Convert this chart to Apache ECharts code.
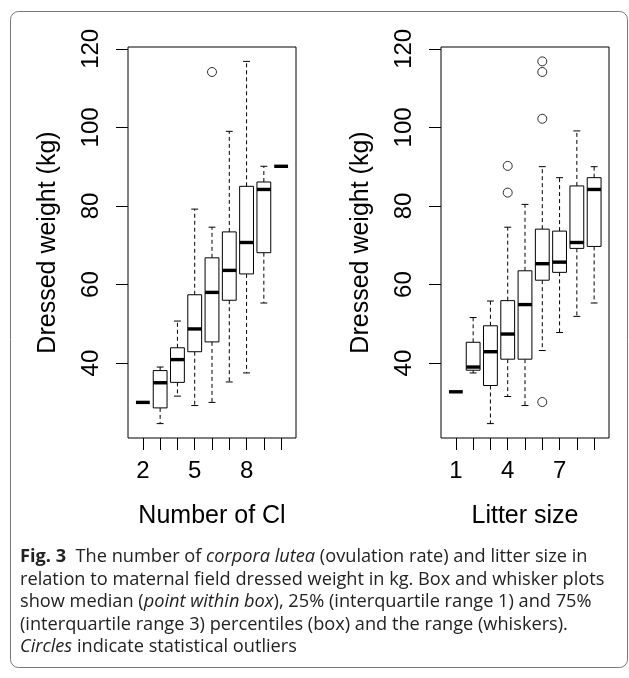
<!DOCTYPE html>
<html>
<head>
<meta charset="utf-8">
<script src="https://cdn.jsdelivr.net/npm/echarts@6/dist/echarts.min.js"></script>
<style>
html,body{margin:0;padding:0;background:#fff;}
#chart{width:629px;height:678px;}
</style>
</head>
<body>
<div id="chart"></div>
<script>
// ---- data ----
const clCategories = ['2','3','4','5','6','7','8','9','10'];
const clLow    = [30.0, 24.6, 31.6, 29.2, 30.0, 35.2, 37.5, 55.3, 90.1];
const clQ1     = [30.0, 28.6, 35.1, 42.9, 45.4, 56.0, 62.7, 68.1, 90.1];
const clMedian = [30.0, 35.0, 40.9, 48.7, 58.0, 63.6, 70.7, 84.2, 90.1];
const clQ3     = [30.0, 38.1, 43.9, 57.4, 66.8, 73.4, 85.0, 86.1, 90.1];
const clHigh   = [30.0, 39.0, 50.7, 79.2, 74.6, 99.0, 116.8, 90.1, 90.1];
const clOutlierCats   = ['6'];
const clOutlierValues = [114.1];

const lsCategories = ['1','2','3','4','5','6','7','8','9'];
const lsLow    = [32.7, 37.5, 24.6, 31.5, 29.2, 43.2, 47.8, 51.9, 55.3];
const lsQ1     = [32.7, 38.2, 34.3, 41.0, 41.0, 61.1, 63.1, 69.2, 69.7];
const lsMedian = [32.7, 39.0, 42.9, 47.4, 54.9, 65.3, 65.7, 70.7, 84.2];
const lsQ3     = [32.7, 45.3, 49.5, 55.9, 63.5, 74.1, 73.6, 85.1, 87.2];
const lsHigh   = [32.7, 51.6, 55.8, 74.6, 80.4, 90.0, 87.2, 99.1, 90.0];
const lsOutlierCats   = ['4','4','6','6','6','6'];
const lsOutlierValues = [90.2, 83.4, 116.8, 114.1, 102.2, 30.1];

const yTicks = [40, 60, 80, 100, 120];
const clLabelTicks = ['2','5','8'];
const lsLabelTicks = ['1','4','7'];
const yTitle = 'Dressed weight (kg)';
const clTitle = 'Number of Cl';
const lsTitle = 'Litter size';

// ---- helpers ----
const FONT = 'Liberation Sans, Arial, Helvetica, sans-serif';
function boxRows(cats, lo, q1, med, q3, hi) {
  return cats.map((c, i) => [i + 1, lo[i], q1[i], med[i], q3[i], hi[i]]);
}
function outlierRows(cats, oc, ov) {
  return oc.map((c, i) => [cats.indexOf(c) + 1, ov[i]]);
}
function renderBox(params, api) {
  const x = api.value(0);
  const lo = api.value(1), q1 = api.value(2), med = api.value(3), q3 = api.value(4), hi = api.value(5);
  const bw = api.size([0.8, 0])[0];
  const cw = bw * 0.5;
  const pLo = api.coord([x, lo]), pQ1 = api.coord([x, q1]), pMed = api.coord([x, med]),
        pQ3 = api.coord([x, q3]), pHi = api.coord([x, hi]);
  const cx = pMed[0];
  const line = (x1, y1, x2, y2, extra) => Object.assign({
    type: 'line', shape: {x1, y1, x2, y2},
    style: {stroke: '#000', lineWidth: 1}
  }, extra || {});
  const children = [];
  if (hi > q3) {
    children.push(line(cx, pQ3[1], cx, pHi[1], {style: {stroke: '#000', lineWidth: 1, lineDash: [4, 3]}}));
    children.push(line(cx - cw / 2, pHi[1], cx + cw / 2, pHi[1]));
  }
  if (lo < q1) {
    children.push(line(cx, pQ1[1], cx, pLo[1], {style: {stroke: '#000', lineWidth: 1, lineDash: [4, 3]}}));
    children.push(line(cx - cw / 2, pLo[1], cx + cw / 2, pLo[1]));
  }
  if (q3 > q1) {
    children.push({type: 'rect', shape: {x: cx - bw / 2, y: pQ3[1], width: bw, height: pQ1[1] - pQ3[1]},
      style: {fill: '#fff', stroke: '#000', lineWidth: 1}});
  }
  children.push(line(cx - bw / 2, pMed[1], cx + bw / 2, pMed[1], {style: {stroke: '#000', lineWidth: 3.4}}));
  return {type: 'group', children};
}
function xAxisFor(gridIndex, cats, labelTicks, title) {
  return {
    type: 'value', gridIndex, min: 0.14, max: 9.86,
    axisLine: {show: false},
    splitLine: {show: false},
    axisTick: {show: true, length: 12, lineStyle: {color: '#000', width: 1},
      customValues: cats.map((c, i) => i + 1)},
    axisLabel: {show: true, margin: 21, fontSize: 24, color: '#000', fontFamily: FONT,
      customValues: labelTicks.map(t => cats.indexOf(t) + 1),
      formatter: v => cats[Math.round(v) - 1]},
    name: title, nameLocation: 'middle', nameGap: 66,
    nameTextStyle: {fontSize: 25, color: '#000', fontFamily: FONT}
  };
}
function yAxisFor(gridIndex) {
  return {
    type: 'value', gridIndex, min: 20.94, max: 120.46,
    axisLine: {show: false},
    splitLine: {show: false},
    axisTick: {show: true, length: 12, lineStyle: {color: '#000', width: 1}, customValues: yTicks},
    axisLabel: {show: true, rotate: 90, margin: 25, fontSize: 24, color: '#000', fontFamily: FONT,
      customValues: yTicks},
    name: yTitle, nameLocation: 'middle', nameGap: 67,
    nameTextStyle: {fontSize: 25, color: '#000', fontFamily: FONT}
  };
}

const capFont = '"Open Sans", "Noto Sans", sans-serif';
const capSize = 18.2;
const rich = {
  n: {fontFamily: capFont, fontSize: capSize, fill: '#222', fontWeight: 'normal', fontStyle: 'normal'},
  b: {fontFamily: capFont, fontSize: capSize, fill: '#222', fontWeight: 'bold', fontStyle: 'normal'},
  i: {fontFamily: capFont, fontSize: capSize, fill: '#222', fontWeight: 'normal', fontStyle: 'italic'}
};
const captionLines = [
  '{b|Fig. 3}{n|  The number of }{i|corpora lutea}{n| (ovulation rate) and litter size in}',
  '{n|relation to maternal field dressed weight in kg. Box and whisker plots}',
  '{n|show median (}{i|point within box}{n|), 25% (interquartile range 1) and 75%}',
  '{n|(interquartile range 3) percentiles (box) and the range (whiskers).}',
  '{i|Circles}{n| indicate statistical outliers}'
];
const captionY = [557, 579.5, 602, 624.5, 647];

const graphics = [{
  type: 'rect', z: 0, silent: true,
  shape: {x: 10.5, y: 11.5, width: 617, height: 656, r: 8},
  style: {fill: 'none', stroke: '#777', lineWidth: 1}
}];
captionLines.forEach((t, k) => {
  graphics.push({type: 'text', x: 20, y: captionY[k], silent: true,
    style: {text: t, rich, fontFamily: capFont, fontSize: capSize, fill: '#222', verticalAlign: 'middle', align: 'left'}});
});

const chart = echarts.init(document.getElementById('chart'), null, {renderer: 'canvas'});
chart.setOption({
  animation: false,
  backgroundColor: '#fff',
  grid: [
    {left: 128, top: 47, width: 168, height: 391, show: true, borderColor: '#000', borderWidth: 1, backgroundColor: 'transparent'},
    {left: 441, top: 47, width: 168, height: 391, show: true, borderColor: '#000', borderWidth: 1, backgroundColor: 'transparent'}
  ],
  xAxis: [xAxisFor(0, clCategories, clLabelTicks, clTitle), xAxisFor(1, lsCategories, lsLabelTicks, lsTitle)],
  yAxis: [yAxisFor(0), yAxisFor(1)],
  series: [
    {type: 'custom', xAxisIndex: 0, yAxisIndex: 0, renderItem: renderBox,
      encode: {x: 0, y: [1, 2, 3, 4, 5]},
      data: boxRows(clCategories, clLow, clQ1, clMedian, clQ3, clHigh)},
    {type: 'custom', xAxisIndex: 1, yAxisIndex: 1, renderItem: renderBox,
      encode: {x: 0, y: [1, 2, 3, 4, 5]},
      data: boxRows(lsCategories, lsLow, lsQ1, lsMedian, lsQ3, lsHigh)},
    {type: 'scatter', xAxisIndex: 0, yAxisIndex: 0, symbol: 'circle', symbolSize: 9,
      itemStyle: {color: 'rgba(0,0,0,0)', borderColor: '#000', borderWidth: 1},
      data: outlierRows(clCategories, clOutlierCats, clOutlierValues)},
    {type: 'scatter', xAxisIndex: 1, yAxisIndex: 1, symbol: 'circle', symbolSize: 9,
      itemStyle: {color: 'rgba(0,0,0,0)', borderColor: '#000', borderWidth: 1},
      data: outlierRows(lsCategories, lsOutlierCats, lsOutlierValues)}
  ],
  graphic: graphics
});
</script>
</body>
</html>
